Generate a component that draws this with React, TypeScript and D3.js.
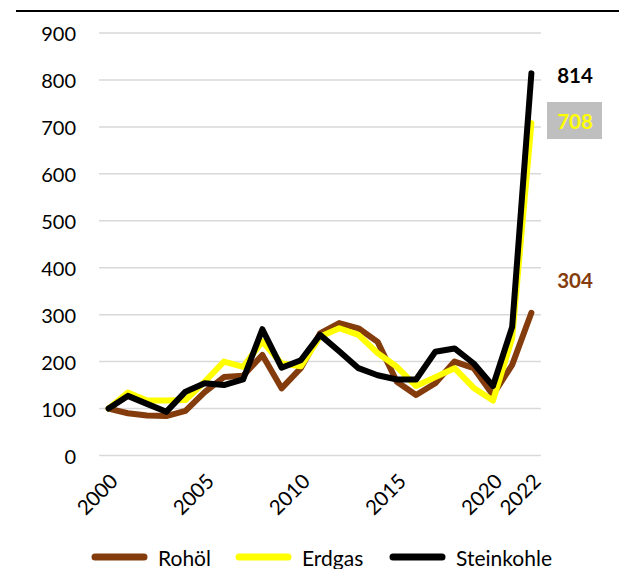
import React from "react";
import * as d3 from "d3";

const years = d3.range(2000, 2023).map(String);
const rohoel = [100, 90, 85, 84, 95, 135, 167, 170, 214, 143, 186, 260, 282, 271, 242, 157, 129, 154, 200, 186, 129, 193, 304];
const erdgas = [100, 134, 117, 117, 118, 157, 200, 189, 243, 196, 190, 253, 271, 257, 218, 189, 148, 167, 186, 144, 117, 250, 708];
const steinkohle = [100, 127, 110, 93, 136, 154, 150, 162, 269, 187, 203, 257, 222, 186, 171, 162, 162, 221, 228, 196, 148, 274, 814];
const yTicks = [0, 100, 200, 300, 400, 500, 600, 700, 800, 900];
const xTickLabels = ["2000", "2005", "2010", "2015", "2020", "2022"];

const seriesList = [
  { name: "Rohöl", values: rohoel, color: "#843C0C" },
  { name: "Erdgas", values: erdgas, color: "#FFFF00" },
  { name: "Steinkohle", values: steinkohle, color: "#000000" },
];

const W = 619;
const H = 569;
const FONT = "Lato, 'Open Sans', sans-serif";

export default function App() {
  const x = d3.scaleBand().domain(years).range([99, 541]);
  const y = d3.scaleLinear().domain([0, 900]).range([455.5, 33]);
  const cx = (yr: string) => (x(yr) as number) + x.bandwidth() / 2;
  const line = (vals: number[]) =>
    d3
      .line<number>()
      .x((_, i) => cx(years[i]))
      .y((v) => y(v))(vals) as string;

  const last = years.length - 1;

  return (
    <svg
      width={W}
      height={H}
      style={{ position: "absolute", left: 0, top: 0, background: "#fff" }}
      fontFamily={FONT}
    >
      <line x1={16} x2={W} y1={11} y2={11} stroke="#000" strokeWidth={2} />
      {yTicks.map((t) => (
        <g key={t}>
          <line x1={99} x2={541} y1={y(t)} y2={y(t)} stroke="#d9d9d9" strokeWidth={1.5} />
          <text x={76} y={y(t)} textAnchor="end" dominantBaseline="central" fontSize={20} fill="#000">
            {t}
          </text>
        </g>
      ))}
      {xTickLabels.map((l) => (
        <text
          key={l}
          transform={`translate(${cx(l) + 5},${477}) rotate(-45)`}
          textAnchor="end"
          dominantBaseline="central"
          fontSize={20.5}
          fill="#000"
        >
          {l}
        </text>
      ))}
      {seriesList.map((s) => (
        <path
          key={s.name}
          d={line(s.values)}
          fill="none"
          stroke={s.color}
          strokeWidth={6}
          strokeLinejoin="round"
          strokeLinecap="round"
        />
      ))}
      {/* end labels */}
      <text x={575} y={y(steinkohle[last]) + 2} textAnchor="middle" dominantBaseline="central" fontSize={20.5} fontWeight="bold" fill="#000">
        {steinkohle[last]}
      </text>
      <rect x={547} y={102} width={55} height={37} fill="#BFBFBF" />
      <text x={575} y={121} textAnchor="middle" dominantBaseline="central" fontSize={20.5} fontWeight="bold" fill="#FFFF00">
        {erdgas[last]}
      </text>
      <text x={575} y={280} textAnchor="middle" dominantBaseline="central" fontSize={20.5} fontWeight="bold" fill="#843C0C">
        {rohoel[last]}
      </text>
      {/* legend */}
      {seriesList.map((s, i) => {
        const sx = [92, 236, 390][i];
        return (
          <g key={s.name}>
            <line x1={sx + 3} x2={sx + 52} y1={557} y2={557} stroke={s.color} strokeWidth={7} strokeLinecap="round" />
            <text x={sx + 66} y={557} dominantBaseline="central" fontSize={21} fill="#000">
              {s.name}
            </text>
          </g>
        );
      })}
    </svg>
  );
}
